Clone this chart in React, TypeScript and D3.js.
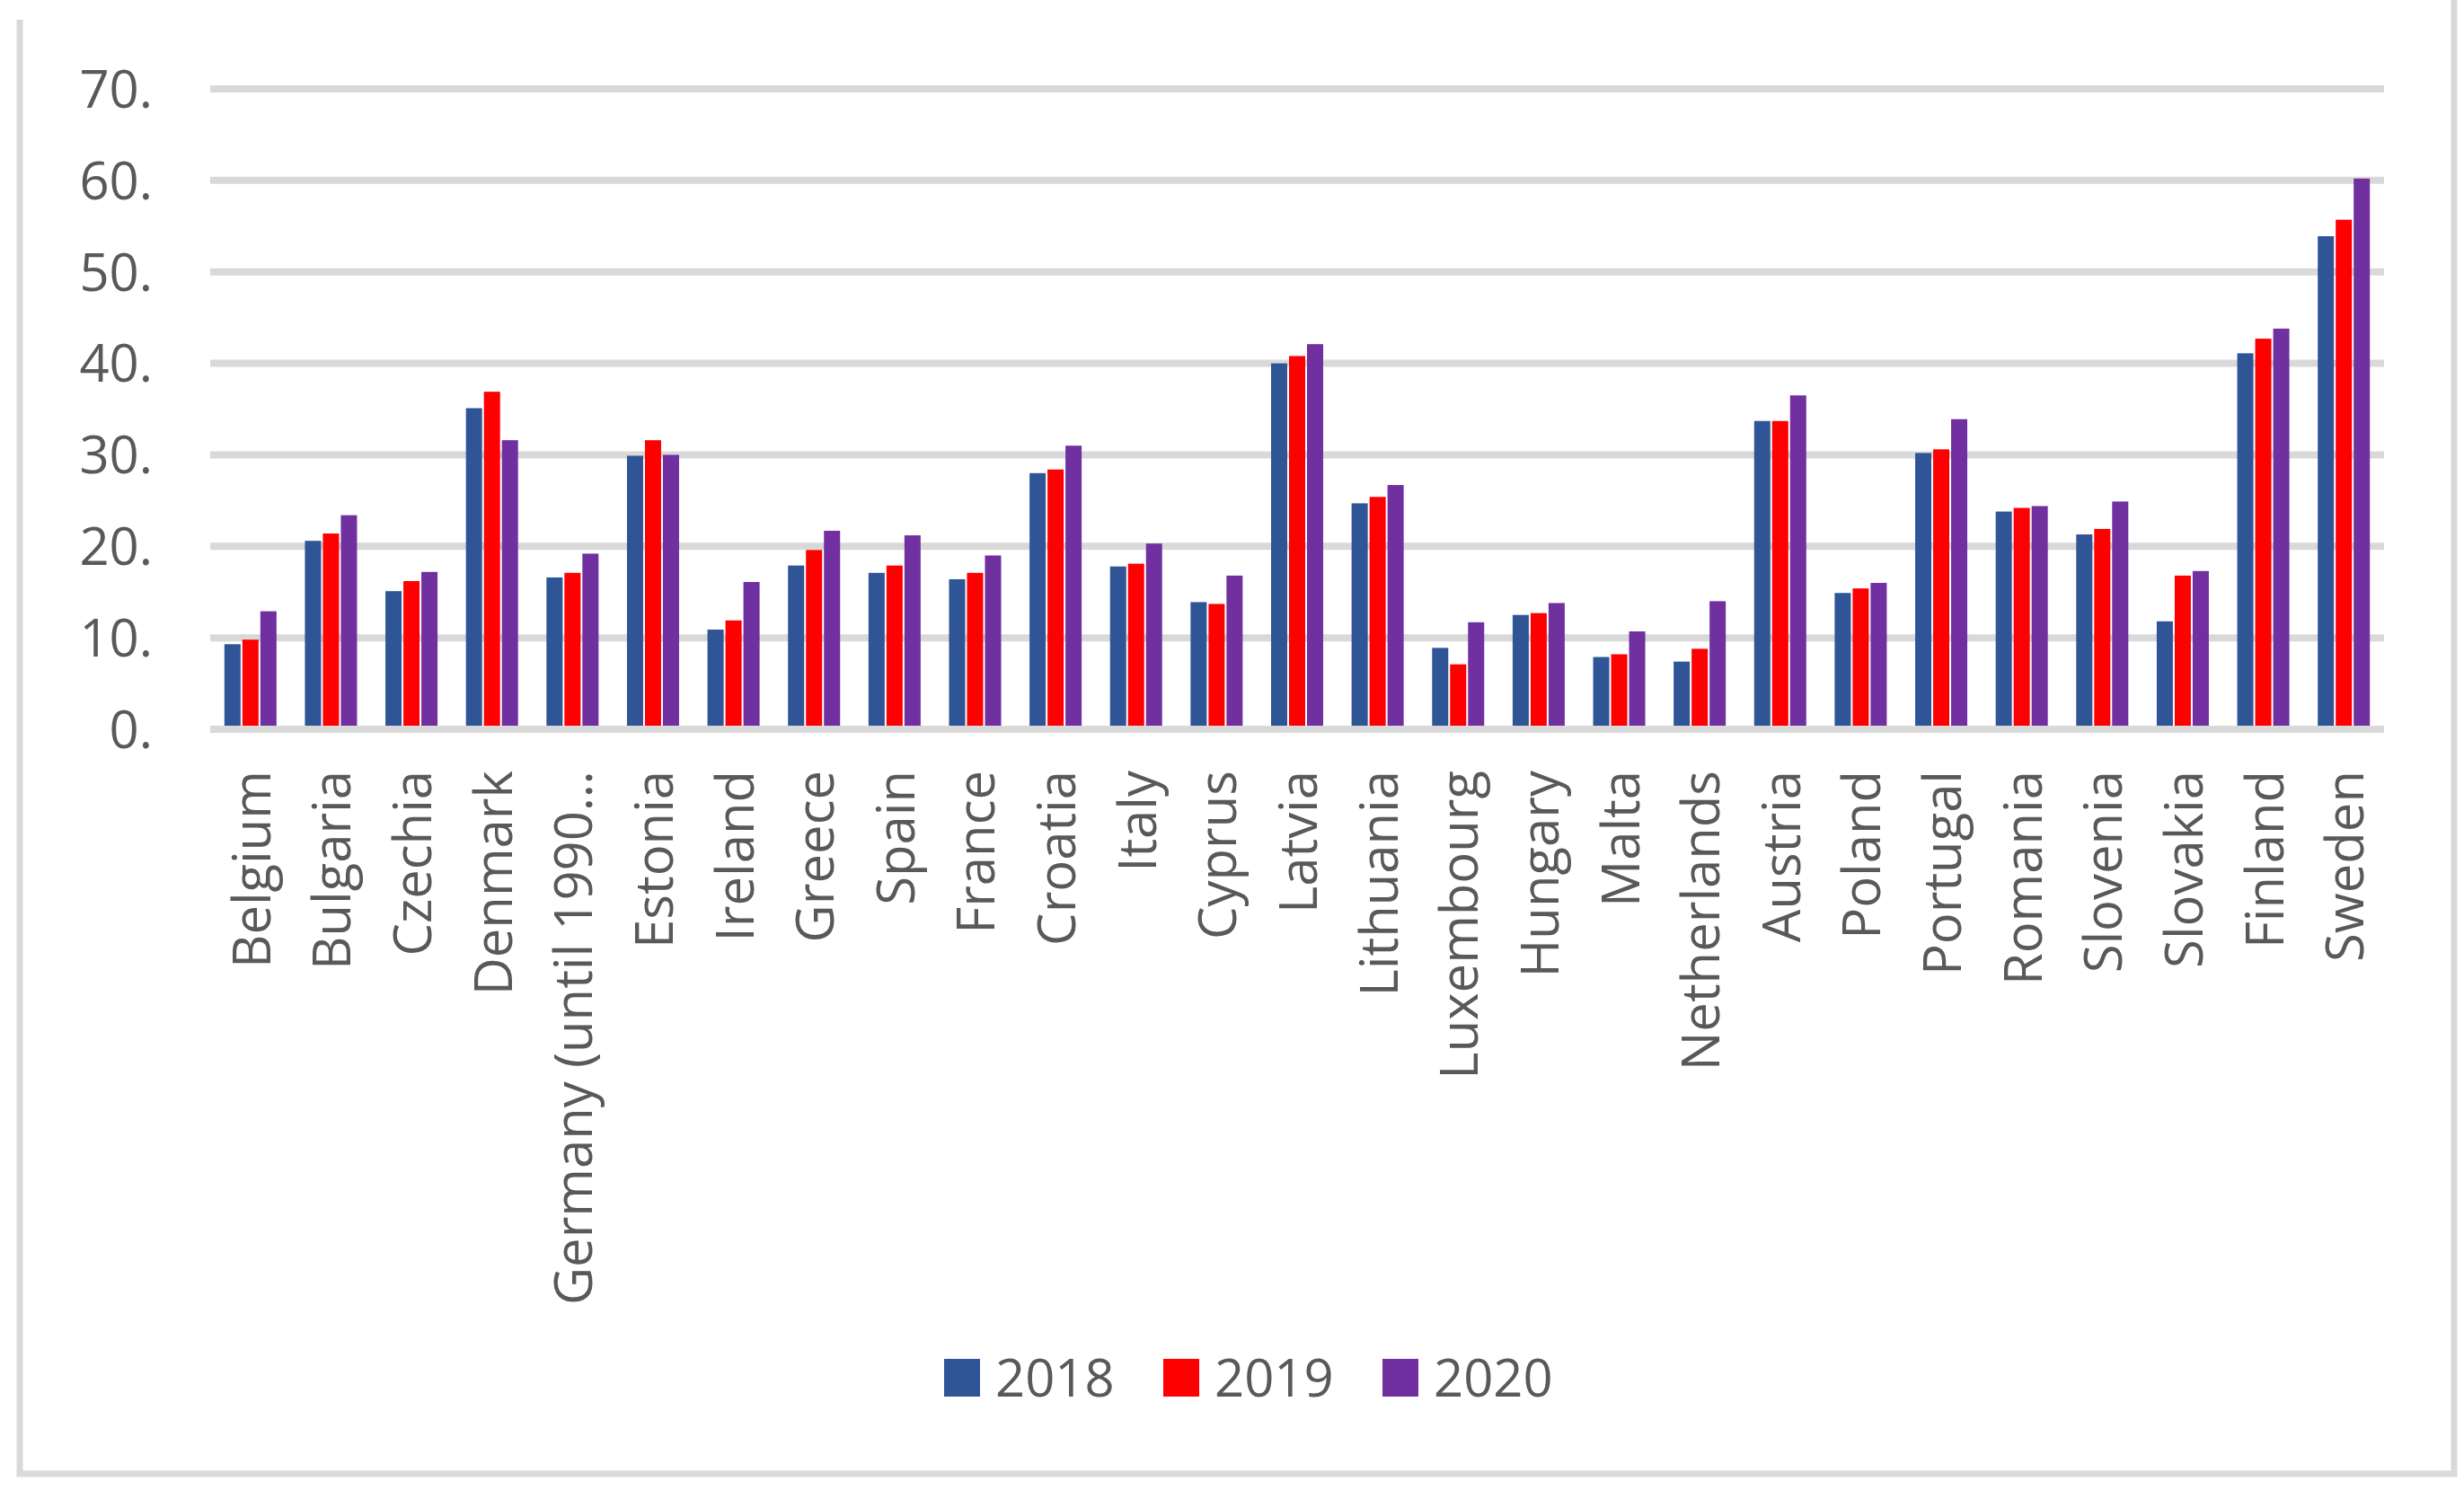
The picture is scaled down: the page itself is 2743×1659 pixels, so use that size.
import React, { useEffect, useRef } from 'react';
import * as d3 from 'd3';

const countries = [
  'Belgium', 'Bulgaria', 'Czechia', 'Denmark', 'Germany (until 1990…', 'Estonia',
  'Ireland', 'Greece', 'Spain', 'France', 'Croatia', 'Italy', 'Cyprus', 'Latvia',
  'Lithuania', 'Luxembourg', 'Hungary', 'Malta', 'Netherlands', 'Austria', 'Poland',
  'Portugal', 'Romania', 'Slovenia', 'Slovakia', 'Finland', 'Sweden',
];

const years = ['2018', '2019', '2020'];

const values2018 = [
  9.3, 20.6, 15.1, 35.1, 16.6, 29.9, 10.9, 17.9, 17.1, 16.4, 28.0, 17.8, 13.9, 40.0,
  24.7, 8.9, 12.5, 7.9, 7.4, 33.7, 14.9, 30.2, 23.8, 21.3, 11.8, 41.1, 53.9,
];
const values2019 = [
  9.8, 21.4, 16.2, 36.9, 17.1, 31.6, 11.9, 19.6, 17.9, 17.1, 28.4, 18.1, 13.7, 40.8,
  25.4, 7.1, 12.7, 8.2, 8.8, 33.7, 15.4, 30.6, 24.2, 21.9, 16.8, 42.7, 55.7,
];
const values2020 = [
  12.9, 23.4, 17.2, 31.6, 19.2, 30.0, 16.1, 21.7, 21.2, 19.0, 31.0, 20.3, 16.8, 42.1,
  26.7, 11.7, 13.8, 10.7, 14.0, 36.5, 16.0, 33.9, 24.4, 24.9, 17.3, 43.8, 60.2,
];

const yTicks = [0, 10, 20, 30, 40, 50, 60, 70];
const tickLabels = ['0.', '10.', '20.', '30.', '40.', '50.', '60.', '70.'];

const colors = ['#2F5597', '#FF0000', '#7030A0'];

const App: React.FC = () => {
  const svgRef = useRef<SVGSVGElement>(null);

  useEffect(() => {
    if (!svgRef.current) return;
    const svg = d3.select(svgRef.current);
    svg.selectAll('*').remove();

    const width = 2743;
    const height = 1659;
    const font = '"Open Sans", sans-serif';
    const textColor = '#595959';
    const gridColor = '#D9D9D9';

    svg.append('rect').attr('width', width).attr('height', height).attr('fill', '#ffffff');

    // frame (left, bottom, right edges)
    svg
      .append('path')
      .attr('d', 'M22,22 V1641 H2732 V0')
      .attr('fill', 'none')
      .attr('stroke', gridColor)
      .attr('stroke-width', 7);

    const x0 = d3.scaleBand<string>().domain(countries).range([234, 2654]);
    const x1 = d3.scaleBand<string>().domain(years).range([-29, 29]).paddingInner(0.1);
    const y = d3.scaleLinear().domain([0, 70]).range([812, 99]);

    // gridlines
    svg
      .append('g')
      .selectAll('line')
      .data(yTicks)
      .join('line')
      .attr('x1', 234)
      .attr('x2', 2654)
      .attr('y1', d => y(d))
      .attr('y2', d => y(d))
      .attr('stroke', gridColor)
      .attr('stroke-width', 8);

    // y tick labels
    svg
      .append('g')
      .selectAll('text')
      .data(yTicks)
      .join('text')
      .attr('x', 170)
      .attr('y', d => y(d))
      .attr('dy', '0.36em')
      .attr('text-anchor', 'end')
      .attr('font-family', font)
      .attr('font-size', 58)
      .attr('fill', textColor)
      .text((_d, i) => tickLabels[i]);

    // bars
    const series = [values2018, values2019, values2020];
    series.forEach((vals, si) => {
      svg
        .append('g')
        .selectAll('rect')
        .data(vals)
        .join('rect')
        .attr('x', (_d, i) => (x0(countries[i]) as number) + x0.bandwidth() / 2 + (x1(years[si]) as number))
        .attr('y', d => y(d))
        .attr('width', x1.bandwidth())
        .attr('height', d => y(0) - 4 - y(d))
        .attr('fill', colors[si]);
    });

    // category labels
    svg
      .append('g')
      .selectAll('text')
      .data(countries)
      .join('text')
      .attr(
        'transform',
        d => `translate(${(x0(d) as number) + x0.bandwidth() / 2 + 22},858) rotate(-90)`
      )
      .attr('text-anchor', 'end')
      .attr('font-family', font)
      .attr('font-size', 58)
      .attr('fill', textColor)
      .text(d => d);

    // legend
    const legend = svg.append('g');
    years.forEach((yr, i) => {
      const lx = 1051 + i * 244;
      legend
        .append('rect')
        .attr('x', lx)
        .attr('y', 1513)
        .attr('width', 40)
        .attr('height', 42)
        .attr('fill', colors[i]);
      legend
        .append('text')
        .attr('x', lx + 57)
        .attr('y', 1555)
        .attr('font-family', font)
        .attr('font-size', 58)
        .attr('fill', textColor)
        .text(yr);
    });
  }, []);

  return (
    <div style={{ position: 'absolute', left: 0, top: 0 }}>
      <svg ref={svgRef} width={2743} height={1659} style={{ display: 'block' }} />
    </div>
  );
};

export default App;
